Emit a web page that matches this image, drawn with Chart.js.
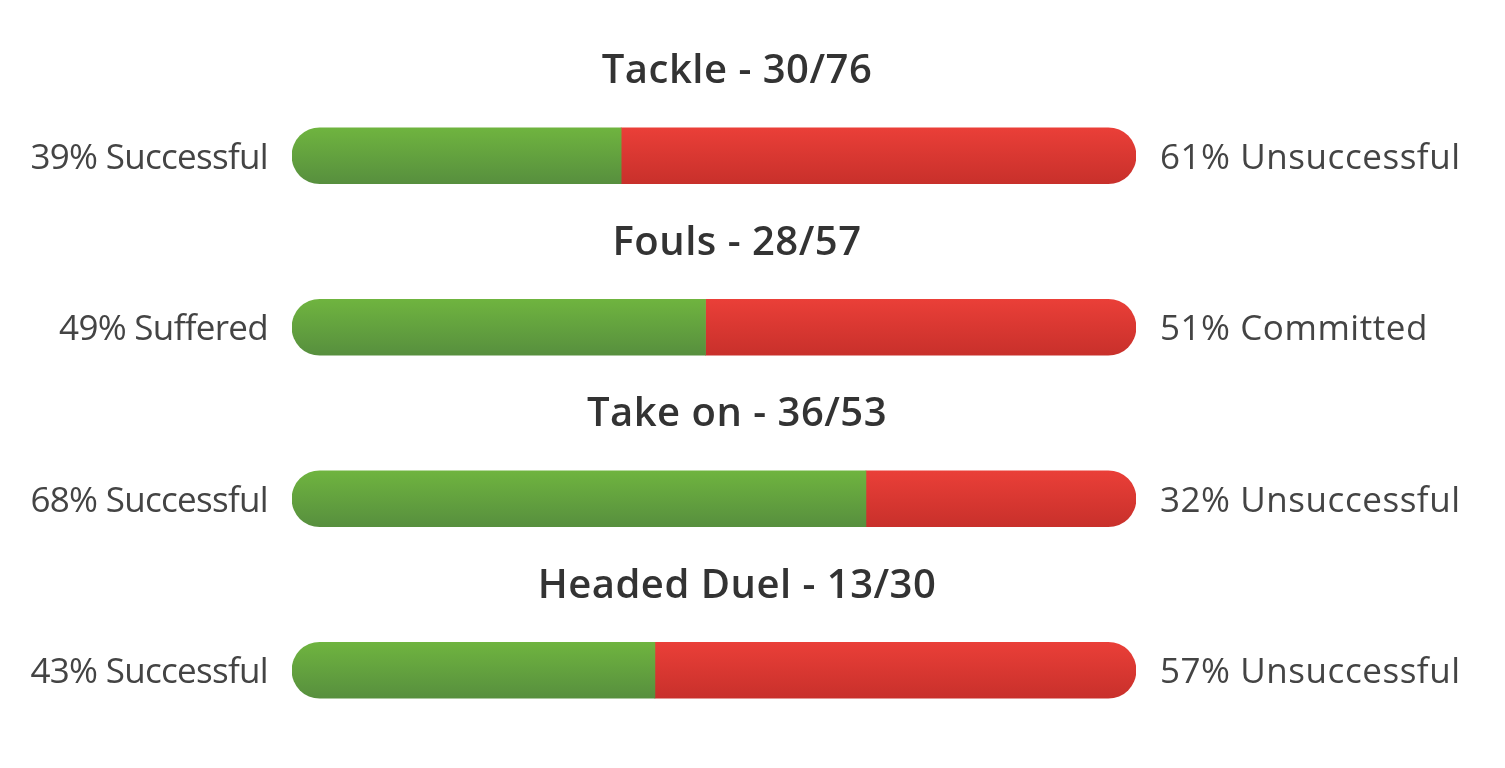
<!DOCTYPE html>
<html>
<head>
<meta charset="utf-8">
<script src="https://cdn.jsdelivr.net/npm/chart.js@4/dist/chart.umd.min.js"></script>
<style>
html,body{margin:0;padding:0;background:#fff;}
#wrap{width:1505px;height:768px;position:relative;}
</style>
</head>
<body>
<div id="wrap"><canvas id="c"></canvas></div>
<script>
const categories = ['Tackle', 'Fouls', 'Take on', 'Headed Duel'];
const successCounts = [30, 28, 36, 13];
const totals = [76, 57, 53, 30];
const positivePct = [39, 49, 68, 43];
const negativePct = [61, 51, 32, 57];
const positiveLabels = ['Successful', 'Suffered', 'Successful', 'Successful'];
const negativeLabels = ['Unsuccessful', 'Committed', 'Unsuccessful', 'Unsuccessful'];

const BAR_H = 56;

function gradFor(ctx, top, bottom) {
  const chart = ctx.chart;
  if (!chart.chartArea || !chart.scales.y) return top;
  const y = chart.scales.y.getPixelForValue(ctx.dataIndex);
  const g = chart.ctx.createLinearGradient(0, y - BAR_H / 2, 0, y + BAR_H / 2);
  g.addColorStop(0, top);
  g.addColorStop(1, bottom);
  return g;
}

const textPlugin = {
  id: 'texts',
  afterDatasetsDraw(chart) {
    const c = chart.ctx;
    const ys = chart.scales.y;
    const area = chart.chartArea;
    c.save();
    categories.forEach((cat, i) => {
      const y = ys.getPixelForValue(i);
      c.fillStyle = '#333333';
      c.font = '600 40px "Open Sans"';
      c.letterSpacing = '0.5px';
      c.textAlign = 'center';
      c.textBaseline = 'middle';
      c.fillText(cat + ' - ' + successCounts[i] + '/' + totals[i], (area.left + area.right) / 2 + 23, y - 84);
      c.fillStyle = '#444444';
      c.font = '35px "Open Sans"';
      c.letterSpacing = '-0.7px';
      c.textAlign = 'right';
      c.fillText(positivePct[i] + '% ' + positiveLabels[i], area.left - 24, y + 3);
      c.letterSpacing = '0.55px';
      c.textAlign = 'left';
      c.fillText(negativePct[i] + '% ' + negativeLabels[i], area.right + 24, y + 3);
    });
    c.restore();
  }
};

new Chart(document.getElementById('c'), {
  type: 'bar',
  data: {
    labels: categories,
    datasets: [
      {
        data: positivePct,
        backgroundColor: (ctx) => gradFor(ctx, '#6fb43f', '#578f3e'),
        borderRadius: { topLeft: 28, bottomLeft: 28, topRight: 0, bottomRight: 0 },
        borderSkipped: false,
        barThickness: BAR_H
      },
      {
        data: negativePct,
        backgroundColor: (ctx) => gradFor(ctx, '#ea3f38', '#c8302b'),
        borderRadius: { topLeft: 0, bottomLeft: 0, topRight: 28, bottomRight: 28 },
        borderSkipped: false,
        barThickness: BAR_H
      }
    ]
  },
  options: {
    indexAxis: 'y',
    responsive: true,
    maintainAspectRatio: false,
    animation: false,
    layout: { padding: { left: 292, right: 369, top: 70, bottom: 12 } },
    plugins: { legend: { display: false }, tooltip: { enabled: false } },
    scales: {
      x: { stacked: true, min: 0, max: 100, display: false },
      y: { stacked: true, display: false }
    }
  },
  plugins: [textPlugin]
});
</script>
</body>
</html>
